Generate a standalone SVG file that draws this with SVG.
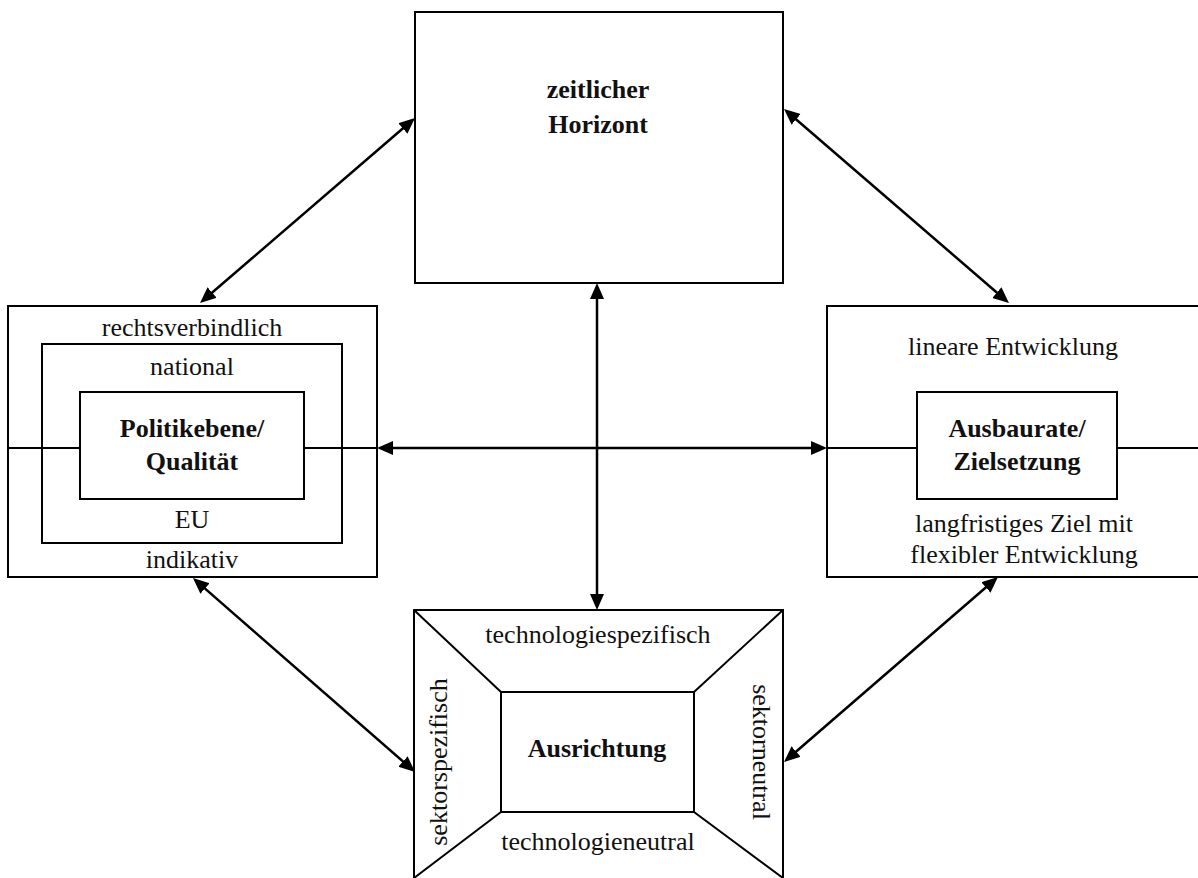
<svg xmlns="http://www.w3.org/2000/svg" width="1198" height="878" viewBox="0 0 1198 878">
<defs>
<style>
.box{fill:#fff;stroke:#000;stroke-width:2}
.ln{fill:none;stroke:#000;stroke-width:2}
.con{fill:none;stroke:#000;stroke-width:2.5;marker-start:url(#ah);marker-end:url(#ah)}
text{font-family:"Liberation Serif","Times New Roman",serif;font-size:26px;fill:#111;text-anchor:middle}
.b{font-weight:bold}
</style>
<marker id="ah" markerUnits="userSpaceOnUse" markerWidth="18" markerHeight="16" refX="6" refY="7" orient="auto-start-reverse">
<path d="M0,0 L16,7 L0,14 z" fill="#000"/>
</marker>
</defs>
<rect width="1198" height="878" fill="#fff"/>

<g id="zeitlicher-horizont">
<rect class="box" x="415" y="12" width="368" height="271"/>
<text class="b" x="598" y="98">zeitlicher</text>
<text class="b" x="598" y="133">Horizont</text>
</g>

<g id="politikebene">
<rect class="box" x="8" y="306" width="369" height="271"/>
<rect class="box" x="42" y="344" width="300" height="199"/>
<rect class="box" x="80" y="392" width="224" height="107"/>
<line class="ln" x1="8" y1="448" x2="80" y2="448"/>
<line class="ln" x1="304" y1="448" x2="377" y2="448"/>
<text x="192" y="336">rechtsverbindlich</text>
<text x="192" y="375">national</text>
<text class="b" x="192" y="437">Politikebene/</text>
<text class="b" x="192" y="470">Qualität</text>
<text x="192" y="528">EU</text>
<text x="192" y="568">indikativ</text>
</g>

<g id="ausbaurate">
<rect class="box" x="827" y="306" width="400" height="271"/>
<rect class="box" x="917" y="392" width="200" height="107"/>
<line class="ln" x1="827" y1="448" x2="917" y2="448"/>
<line class="ln" x1="1117" y1="448" x2="1200" y2="448"/>
<text x="1013" y="355">lineare Entwicklung</text>
<text class="b" x="1017" y="437">Ausbaurate/</text>
<text class="b" x="1017" y="470">Zielsetzung</text>
<text x="1024" y="532">langfristiges Ziel mit</text>
<text x="1024" y="563">flexibler Entwicklung</text>
</g>

<g id="ausrichtung">
<rect class="box" x="414" y="610" width="369" height="272"/>
<rect class="box" x="501" y="692" width="193" height="120"/>
<line class="ln" x1="414" y1="610" x2="501" y2="692"/>
<line class="ln" x1="783" y1="610" x2="694" y2="692"/>
<line class="ln" x1="501" y1="812" x2="414" y2="878"/>
<line class="ln" x1="694" y1="812" x2="783" y2="878"/>
<text x="598" y="643">technologiespezifisch</text>
<text class="b" x="597" y="757">Ausrichtung</text>
<text x="598" y="850">technologieneutral</text>
<text transform="translate(447,762) rotate(-90)">sektorspezifisch</text>
<text transform="translate(753,752) rotate(90)">sektorneutral</text>
</g>

<g id="connectors">
<line class="con" x1="407.4" y1="124.5" x2="207.6" y2="296.5"/>
<line class="con" x1="791.6" y1="115.5" x2="1001.4" y2="296.5"/>
<line class="con" x1="597" y1="293" x2="597" y2="600"/>
<line class="con" x1="387" y1="448" x2="817" y2="448"/>
<line class="con" x1="200.5" y1="584.6" x2="407.5" y2="765.4"/>
<line class="con" x1="990.4" y1="583.5" x2="791.6" y2="755.5"/>
</g>
</svg>
